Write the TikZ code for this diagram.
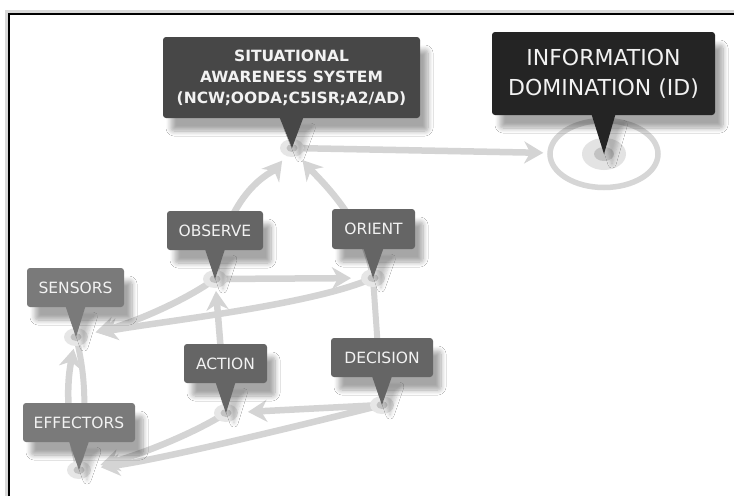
\documentclass[tikz,border=0pt]{standalone}
\usepackage{fontspec}
\setmainfont{DejaVu Sans}
\usetikzlibrary{arrows.meta,shapes.geometric,shadows.blur}
\definecolor{framegrey}{HTML}{D8D8D8}
\definecolor{linkgrey}{HTML}{D4D4D4}
\definecolor{ringgrey}{HTML}{D6D6D6}
\definecolor{ringfill}{HTML}{E3E3E3}
\definecolor{hubout}{HTML}{E6E6E6}
\definecolor{hubin}{HTML}{C2C2C2}
\definecolor{sascol}{HTML}{474747}
\definecolor{idcol}{HTML}{242424}
\definecolor{oodacol}{HTML}{656565}
\definecolor{devcol}{HTML}{7A7A7A}
\definecolor{tagtext}{HTML}{F2F2F2}
\tikzset{soft/.style={blur shadow={shadow xshift=8pt,shadow yshift=-13pt,shadow opacity=35,shadow blur radius=5pt,shadow blur steps=8}},
  softtip/.style={blur shadow={shadow xshift=8pt,shadow yshift=-10pt,shadow opacity=22,shadow blur radius=4pt,shadow blur steps=6}}}
\begin{document}
\begin{tikzpicture}[x=1pt,y=-1pt,
  tag/.style={rounded corners=3pt,inner sep=0pt,align=center,text=tagtext,soft,font=\fontsize{15.5}{18}\selectfont},
  link/.style={draw=linkgrey,line width=6.5pt,-{Stealth[length=19pt,width=22pt,inset=6pt]}},
  plain/.style={draw=linkgrey,line width=6pt}]
\useasboundingbox (0,0) rectangle (734,496);
\fill[framegrey] (5,10) rectangle (734,496);
\fill[white] (8,13) rectangle (734,496);
\draw[line width=2pt] (9,496) -- (9,14) -- (734,14);
\coordinate (sas) at (292,148);
\coordinate (id) at (604,154);
\coordinate (obs) at (215,279);
\coordinate (ori) at (373,278);
\coordinate (sen) at (76,337);
\coordinate (act) at (226,413);
\coordinate (dec) at (382,405);
\coordinate (eff) at (79,470);
\node[ellipse,draw=ringgrey,line width=5.5pt,minimum width=108pt,minimum height=67pt,inner sep=0pt] (idring) at (id) {};
\fill[ringfill] (id) ellipse [x radius=22pt,y radius=16pt];
\fill[hubin] (id) ellipse [x radius=10pt,y radius=7pt];
\draw[link,shorten >=4pt] (sas) -- (idring);
\draw[link,shorten >=16pt] (obs) .. controls +(10,-89) and +(-18,23) .. (sas);
\draw[link,shorten >=16pt] (ori) .. controls +(-8,-58) and +(26,30) .. (sas);
\draw[link,shorten >=22pt] (obs) -- (ori);
\draw[link,shorten >=20pt] (obs) .. controls +(-35,25) and +(50,-12) .. (sen);
\draw[link,shorten >=23pt] (ori) .. controls +(-60,27) and +(80,-15) .. (sen);
\draw[plain] (ori) -- (dec);
\draw[link,shorten >=12pt] (act) -- (obs);
\draw[link,shorten >=22pt] (dec) -- (act);
\draw[link,shorten >=22pt] (dec) .. controls +(-80,20) and +(80,-10) .. (eff);
\draw[link,shorten >=22pt] (act) .. controls +(-40,25) and +(50,-12) .. (eff);
\draw[link,shorten >=12pt] (eff) .. controls +(-15,-60) and +(-8,40) .. (sen);
\draw[plain] (sen) .. controls +(10,40) and +(8,-60) .. (eff);
\foreach \h in {sas,obs,ori,sen,act,dec,eff}{
  \fill[hubout] (\h) ellipse [x radius=12pt,y radius=9pt];
  \fill[hubin] (\h) ellipse [x radius=5.5pt,y radius=4pt];}
\node[tag,fill=sascol,minimum width=257pt,minimum height=81pt,font=\bfseries\fontsize{15.5}{21}\selectfont] (sasbox) at (291.5,77.5) {SITUATIONAL\\AWARENESS SYSTEM\\(NCW;OODA;C5ISR;A2/AD)};
\node[tag,fill=idcol,minimum width=223pt,minimum height=83pt,font=\fontsize{22}{30}\selectfont] (idbox) at (603.5,73.5) {INFORMATION\\DOMINATION (ID)};
\node[tag,fill=oodacol,minimum width=96pt,minimum height=39pt] (obsbox) at (215,230.5) {OBSERVE};
\node[tag,fill=oodacol,minimum width=83pt,minimum height=40pt] (oribox) at (373.5,229) {ORIENT};
\node[tag,fill=devcol,minimum width=97pt,minimum height=39pt] (senbox) at (75.5,287.5) {SENSORS};
\node[tag,fill=oodacol,minimum width=83pt,minimum height=39pt] (actbox) at (225.5,363.5) {ACTION};
\node[tag,fill=oodacol,minimum width=102pt,minimum height=39pt] (decbox) at (382,357.5) {DECISION};
\node[tag,fill=devcol,minimum width=112pt,minimum height=39pt] (effbox) at (79,422.5) {EFFECTORS};
\foreach \b/\h/\c/\w in {sasbox/sas/sascol/12,idbox/id/idcol/12,obsbox/obs/oodacol/10,oribox/ori/oodacol/10,
  senbox/sen/devcol/10,actbox/act/oodacol/10,decbox/dec/oodacol/10,effbox/eff/devcol/10}
  \fill[\c,softtip] ([xshift=-\w pt,yshift=1pt]\b.south) -- (\h) -- ([xshift=\w pt,yshift=1pt]\b.south) -- cycle;
\end{tikzpicture}
\end{document}
